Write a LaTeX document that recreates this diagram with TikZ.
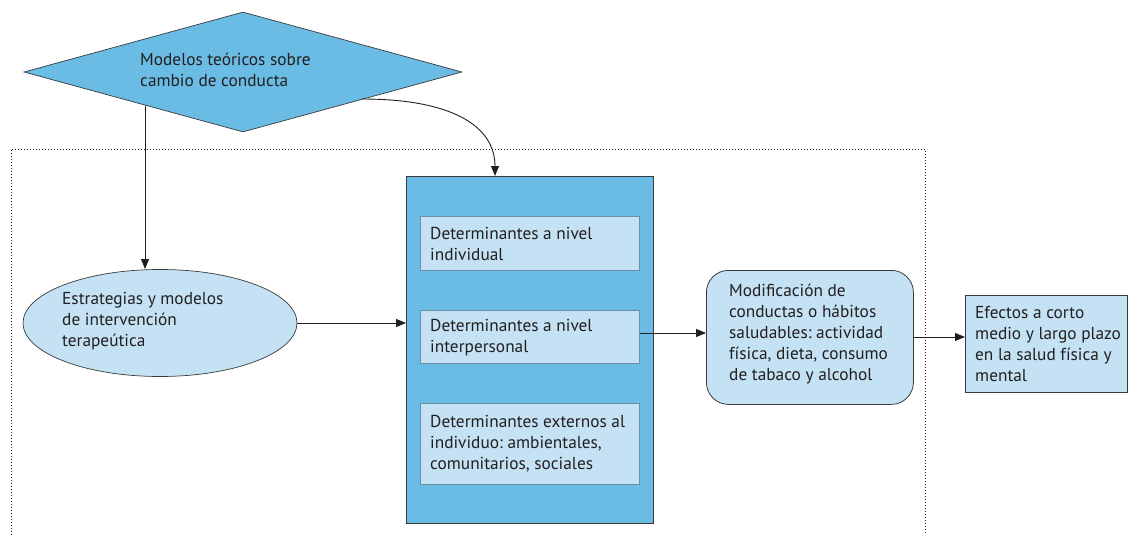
\documentclass[tikz,border=0pt]{standalone}
\usepackage{fontspec}
\setmainfont{PT Sans}
\usetikzlibrary{shapes.geometric,arrows.meta,backgrounds}
\definecolor{dblue}{HTML}{6ABCE5}
\definecolor{lblue}{HTML}{C4E2F4}
\definecolor{txt}{HTML}{231F20}
\definecolor{edge}{HTML}{3A3A3A}
\definecolor{iedge}{HTML}{6C8FA8}
\tikzset{
  every node/.style={text=txt,font=\fontsize{17.3}{21}\selectfont\frenchspacing},
  conn/.style={draw=txt,line width=0.9pt,-{Triangle[length=10pt,width=8pt]}},
  innerbox/.style={draw=iedge,line width=1.2pt,fill=lblue,rectangle,minimum width=219pt,inner sep=0pt,anchor=north west},
  lbl/.style={align=left,anchor=west,inner sep=0pt}
}
\begin{document}
\begin{tikzpicture}[x=1pt,y=-1pt]
\useasboundingbox (0,0) rectangle (1128,535);
% dashed frame (open at bottom)
\draw[dotted,line width=1pt,txt] (11,535) -- (11,149) -- (925,149) -- (925,535);
% diamond
\node[diamond,draw=edge,line width=0.7pt,fill=dblue,minimum width=438pt,minimum height=120pt,inner sep=0pt] (diam) at (243,72) {};
\node[lbl] (diamtxt) at (140,69.5) {Modelos teóricos sobre\\cambio de conducta};
% ellipse
\node[ellipse,draw=edge,line width=0.7pt,fill=lblue,minimum width=274pt,minimum height=107pt,inner sep=0pt] (ell) at (160,323) {};
\node[lbl] (elltxt) at (62,321) {Estrategias y modelos\\de intervención\\terapeútica};
% big box
\node[rectangle,draw=edge,line width=1.2pt,fill=dblue,minimum width=247pt,minimum height=347pt,inner sep=0pt,anchor=north west] (big) at (406,176) {};
\node[innerbox,minimum height=54pt] (b1) at (420,216) {};
\node[innerbox,minimum height=53pt] (b2) at (420,310) {};
\node[innerbox,minimum height=81pt] (b3) at (420,403) {};
\node[lbl] (b1t) at (430,244) {Determinantes a nivel\\individual};
\node[lbl] (b2t) at (430,338) {Determinantes a nivel\\interpersonal};
\node[lbl] (b3t) at (430,444) {Determinantes externos al\\individuo: ambientales,\\comunitarios, sociales};
% rounded box
\node[rectangle,rounded corners=22pt,draw=edge,line width=0.8pt,fill=lblue,minimum width=207pt,minimum height=134pt,inner sep=0pt,anchor=north west] (mod) at (706,270) {};
\node[lbl] (modt) at (729,334) {Modificación de\\conductas o hábitos\\saludables: actividad\\física, dieta, consumo\\de tabaco y alcohol};
% right box
\node[rectangle,draw=edge,line width=0.8pt,fill=lblue,minimum width=162pt,minimum height=97pt,inner sep=0pt,anchor=north west] (eff) at (965,295) {};
\node[lbl] (efft) at (975,344) {Efectos a corto\\medio y largo plazo\\en la salud física y\\mental};
% connectors
\coordinate (s1) at (145,106);
\coordinate (e1) at (145,269);
\draw[conn] (s1) -- (e1);
\coordinate (s2) at (362,99);
\coordinate (e2) at (495,176);
\draw[conn] (s2) .. controls (450,99) and (495,125) .. (e2);
\draw[conn] (ell.east) -- (big.west |- ell.east);
\draw[conn] (b2.east |- 0,333) -- (mod.west |- 0,333);
\draw[conn] (mod.east |- 0,337) -- (eff.west |- 0,337);
\end{tikzpicture}
\end{document}
